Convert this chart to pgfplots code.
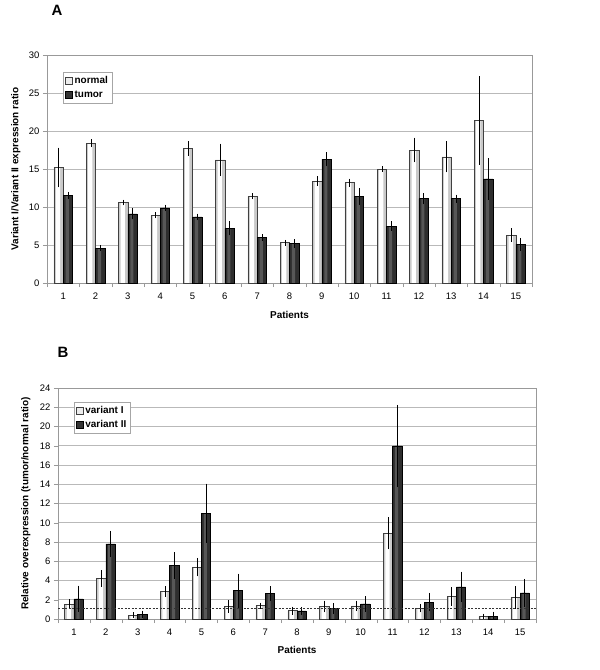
\documentclass[border=0pt]{standalone}
\usepackage{pgfplots}
\pgfplotsset{compat=1.18}
\usepackage{pgfplotstable}
\usepackage{fontspec}
\setmainfont{Liberation Sans}

% panel A: variant I / variant II ratio
\pgfplotstableread{
x  y     e
1  15.2  2.3
2  18.4  0.2
3  10.6  0.05
4  8.9   0.05
5  17.7  0.6
6  16.2  1.8
7  11.4  0.05
8  5.3   0.05
9  13.4  0.3
10 13.2  0.2
11 15.0  0.05
12 17.5  1.3
13 16.6  1.7
14 21.4  5.5
15 6.3   0.6
}\normalA
\pgfplotstableread{
x  y     e
1  11.5  0.15
2  4.6   0.05
3  9.1   0.4
4  9.9   0.1
5  8.7   0.1
6  7.2   0.6
7  6.0   0.1
8  5.2   0.2
9  16.3  0.6
10 11.4  0.8
11 7.5   0.3
12 11.1  0.4
13 11.1  0.2
14 13.7  2.4
15 5.1   0.5
}\tumorA
% panel B: tumor/normal ratio
\pgfplotstableread{
x  y     e
1  1.55  0.25
2  4.2   0.6
3  0.38  0.04
4  2.85  0.3
5  5.4   0.7
6  1.3   0.4
7  1.4   0.05
8  0.87  0.15
9  1.3   0.35
10 1.36  0.28
11 8.9   1.4
12 1.1   0.15
13 2.35  0.7
14 0.25  0.04
15 2.25  0.9
}\varI
\pgfplotstableread{
x  y     e
1  2.1   1.1
2  7.8   1.1
3  0.48  0.12
4  5.55  1.1
5  11.0  2.8
6  2.95  1.5
7  2.65  0.5
8  0.84  0.15
9  1.1   0.28
10 1.57  0.55
11 18.0  4.0
12 1.75  0.7
13 3.35  1.3
14 0.3   0.2
15 2.72  1.2
}\varII

\pgfplotsset{
  excel/.style={
    scale only axis,
    ybar=0pt,
    bar width=0.29,
    xmin=0.5, xmax=15.5,
    xtick={1,...,15},
    major x tick style={draw=none},
    minor xtick={0.5,1.5,...,15.5},
    minor tick length=4bp,
    major tick length=4bp,
    tick align=outside,
    xtick pos=bottom, ytick pos=left,
    ymin=0,
    ymajorgrids,
    grid style={gray!55, line width=0.6bp},
    axis line style={gray!80},
    tick style={gray!80},
    ticklabel style={font=\fontsize{9.5}{10}\selectfont, text=black},
    xticklabel style={yshift=-2bp},
    /pgf/number format/assume math mode=true,
    label style={font=\bfseries\fontsize{10}{12}\selectfont},
    legend style={draw=gray!70, font=\bfseries\fontsize{10}{12}\selectfont,
      inner sep=2bp, row sep=2bp, cells={anchor=west}, anchor=north west},
    legend image code/.code={\draw[#1, line width=0.4bp] (0bp,-3.5bp) rectangle (7bp,3.5bp);},
  },
  errs/.style={
    error bars/y dir=both, error bars/y explicit,
    error bars/error bar style={black, line width=0.5bp},
    error bars/error mark options={black, line width=0.5bp, mark size=2.5bp},
  },
  % first series (light), left half of each category
  lightfill/.style={draw=none, fill=gray!42, bar shift=-0.145, forget plot},
  lighthi/.style={draw=none, fill=white, bar width=0.13, bar shift=-0.16, forget plot},
  lightline/.style={draw=black!75, line width=0.5bp, fill=none, bar shift=-0.145, forget plot, errs},
  % second series (dark), right half of each category
  darkfill/.style={draw=none, fill=black!82, bar shift=0.145, forget plot},
  darkhi/.style={draw=none, fill=black!66, bar width=0.1, bar shift=0.125, forget plot},
  darkline/.style={draw=black, line width=0.5bp, fill=none, bar shift=0.145, forget plot, errs},
}

\begin{document}
\begin{tikzpicture}
\path[use as bounding box] (0,0) rectangle (600bp,-670bp);

\node at (57bp,-10bp) {\bfseries\fontsize{15}{15}\selectfont A};
\node at (63bp,-352bp) {\bfseries\fontsize{15}{15}\selectfont B};

\begin{axis}[excel,
  at={(47bp,-55bp)}, anchor=north west,
  width=485bp, height=228bp,
  ymax=30, ytick={0,5,...,30},
  xlabel={Patients},
  ylabel={Variant I/Variant II expression ratio},
  xlabel style={at={(axis description cs:0.5,0)}, anchor=center, yshift=-32bp},
  ylabel style={at={(axis description cs:0,0.5)}, anchor=south, yshift=23bp},
  legend style={at={(axis description cs:0.033,0.925)}},
]
\addplot[lightfill] table[x=x, y=y] {\normalA};
\addplot[lighthi] table[x=x, y=y] {\normalA};
\addplot[lightline] table[x=x, y=y, y error=e] {\normalA};
\addplot[darkfill] table[x=x, y=y] {\tumorA};
\addplot[darkhi] table[x=x, y=y] {\tumorA};
\addplot[darkline] table[x=x, y=y, y error=e] {\tumorA};
\addlegendimage{draw=black!75, fill=gray!15}
\addlegendimage{draw=black, fill=black!80}
\legend{normal, tumor}
\end{axis}

\begin{axis}[excel,
  at={(58bp,-388bp)}, anchor=north west,
  width=478bp, height=231bp,
  ymax=24, ytick={0,2,...,24},
  xlabel={Patients},
  ylabel={Relative overexpression (tumor/normal ratio)},
  xlabel style={at={(axis description cs:0.5,0)}, anchor=center, yshift=-31bp},
  ylabel style={at={(axis description cs:0,0.5)}, anchor=south, yshift=24bp},
  legend style={at={(axis description cs:0.033,0.94)}},
]
\addplot[lightfill] table[x=x, y=y] {\varI};
\addplot[lighthi] table[x=x, y=y] {\varI};
\addplot[lightline] table[x=x, y=y, y error=e] {\varI};
\addplot[darkfill] table[x=x, y=y] {\varII};
\addplot[darkhi] table[x=x, y=y] {\varII};
\addplot[darkline] table[x=x, y=y, y error=e] {\varII};
% reference level drawn over the bars
\addplot[black!80, line width=0.5bp, dash pattern=on 2bp off 1.5bp, forget plot, sharp plot] coordinates {(0.5,1.1) (15.5,1.1)};
\addlegendimage{draw=black!75, fill=gray!15}
\addlegendimage{draw=black, fill=black!80}
\legend{variant I, variant II}
\end{axis}
\end{tikzpicture}
\end{document}
